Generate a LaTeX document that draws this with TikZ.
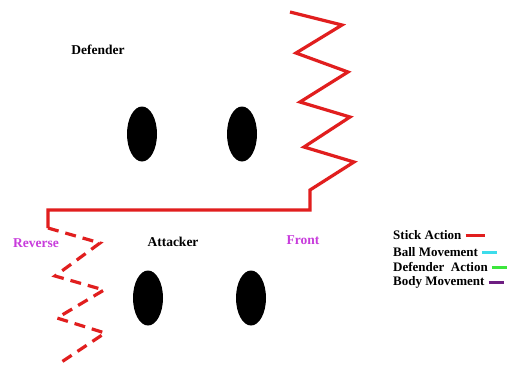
\documentclass[tikz,border=0pt]{standalone}
\usepackage{fontspec}
\setmainfont{Liberation Serif}
\usetikzlibrary{shapes.geometric}
\begin{document}
\begin{tikzpicture}[x=1pt,y=-1pt,
  player/.style={ellipse,fill=black,minimum width=30pt,minimum height=55pt,inner sep=0pt},
  lbl/.style={font=\bfseries\fontsize{13.5}{15}\selectfont,inner sep=0pt},
  mag/.style={lbl,text=labelmag},
  leg/.style={font=\bfseries\fontsize{13}{15}\selectfont,inner sep=0pt,anchor=west},
  stick/.style={draw=stickred,line width=3.2pt,line join=miter},
  legline/.style={line width=3pt}]
\definecolor{stickred}{RGB}{225,30,30}
\definecolor{labelmag}{RGB}{200,60,220}
\definecolor{ballcyan}{RGB}{60,220,235}
\definecolor{defgreen}{RGB}{60,230,60}
\definecolor{bodypurple}{RGB}{110,30,130}
\useasboundingbox (0,0) rectangle (522,368);
\fill[white] (0,0) rectangle (522,368);
% players
\node[player] (d1) at (142,134) {};
\node[player] (d2) at (242,134) {};
\node[player] (a1) at (148,298) {};
\node[player] (a2) at (251,298) {};
% labels
\node[lbl] (def) at (98,50) {Defender};
\node[lbl] (att) at (173,242) {Attacker};
\node[mag] (rev) at (36,243) {Reverse};
\node[mag] (fr) at (303,240) {Front};
% stick action solid
\draw[stick] (290,12) -- (342,25) -- (296,53) -- (348,72) -- (300,102) -- (350,117)
  -- (304,147) -- (354,162) -- (310,190) -- (310,210) -- (48,210) -- (48,228);
% stick action dashed
\draw[stick,dash pattern=on 11pt off 7pt] (48,228) -- (100,243) -- (55,276) -- (104,290)
  -- (57,318) -- (105,333) -- (60,363);
% legend
\node[leg] (l1) at (393,235) {Stick Action};
\node[leg] (l2) at (393,252) {Ball Movement};
\node[leg] (l3) at (393,267) {Defender\ \ Action};
\node[leg] (l4) at (393,282) {Body Movement};
\draw[legline,stickred] ([xshift=4pt]l1.east) -- ++(19,0);
\draw[legline,ballcyan] ([xshift=4pt]l2.east) -- ++(15,0);
\draw[legline,defgreen] ([xshift=4pt]l3.east) -- ++(15,0);
\draw[legline,bodypurple] ([xshift=4pt]l4.east) -- ++(15,0);
\end{tikzpicture}
\end{document}
